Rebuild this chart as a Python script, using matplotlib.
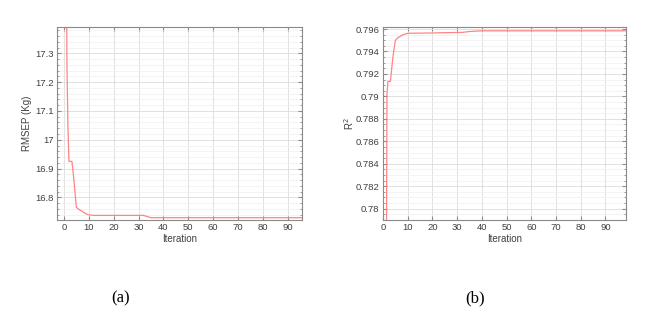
import matplotlib.pyplot as plt
from matplotlib.ticker import AutoMinorLocator, FormatStrFormatter, MultipleLocator

# (a) RMSEP vs iteration
iter_a = [1.0, 1.2, 1.6, 2.0, 3.2, 3.9, 5.0, 6.0, 7.0, 8.0, 9.0, 10.0, 12.0, 32.0, 35.0, 96.0]
rmsep = [17.60, 17.262, 17.046, 16.925, 16.925, 16.87, 16.765, 16.758, 16.753, 16.747, 16.742, 16.739,
         16.737, 16.737, 16.729, 16.729]

# (b) R^2 vs iteration
iter_b = [1.3, 1.6, 2.0, 3.0, 4.0, 5.0, 6.0, 7.0, 8.0, 10.0, 20.0, 32.0, 35.0, 40.0, 98.0]
r2 = [0.770, 0.7902, 0.79134, 0.79134, 0.7935, 0.79498, 0.79522, 0.79535, 0.79548, 0.79562,
      0.79565, 0.79570, 0.79578, 0.79584, 0.79584]

plt.rcParams['font.family'] = ['Liberation Sans', 'DejaVu Sans']
line_color = '#ff8484'
edge = '#8a8a8a'
txt = '#404040'

fig = plt.figure(figsize=(6.57, 3.29), dpi=100)
ax1 = fig.add_axes([57 / 657, 1 - 220 / 329, 245 / 657, 193 / 329])
ax2 = fig.add_axes([383 / 657, 1 - 220 / 329, 243 / 657, 193 / 329])


def style(ax):
    for s in ax.spines.values():
        s.set_color(edge)
        s.set_linewidth(0.8)
    ax.tick_params(which='both', direction='in', top=True, right=True, colors=edge,
                   labelcolor=txt, labelsize=6.8, pad=2.5)
    ax.tick_params(which='major', length=3)
    ax.tick_params(which='minor', length=1.5)
    ax.grid(which='major', color='#dcdcdc', linewidth=0.6)
    ax.grid(which='minor', axis='y', color='#efefef', linewidth=0.5)
    ax.set_axisbelow(True)
    ax.xaxis.set_major_locator(MultipleLocator(10))
    ax.set_xlabel('Iteration', fontsize=7, color=txt, labelpad=1)


ax1.plot(iter_a, rmsep, color=line_color, lw=0.9)
ax1.set_xlim(-2.8, 95.8)
ax1.set_ylim(16.721, 17.392)
ax1.yaxis.set_major_locator(MultipleLocator(0.1))
ax1.yaxis.set_major_formatter(FormatStrFormatter('%g'))
ax1.yaxis.set_minor_locator(AutoMinorLocator(5))
ax1.set_ylabel('RMSEP (Kg)', fontsize=7, color=txt, labelpad=2)
style(ax1)

ax2.plot(iter_b, r2, color=line_color, lw=0.9)
ax2.set_xlim(0, 98.3)
ax2.set_ylim(0.77899, 0.79618)
ax2.yaxis.set_major_locator(MultipleLocator(0.002))
ax2.yaxis.set_major_formatter(FormatStrFormatter('%g'))
ax2.yaxis.set_minor_locator(AutoMinorLocator(4))
ax2.set_ylabel('R$^2$', fontsize=7, color=txt, labelpad=0)
style(ax2)

fig.text(121 / 657, 1 - 298 / 329, '(a)', fontsize=12, family='Liberation Serif', ha='center', va='center')
fig.text(475 / 657, 1 - 298 / 329, '(b)', fontsize=12, family='Liberation Serif', ha='center', va='center')

fig.savefig('out.png', dpi=100)
